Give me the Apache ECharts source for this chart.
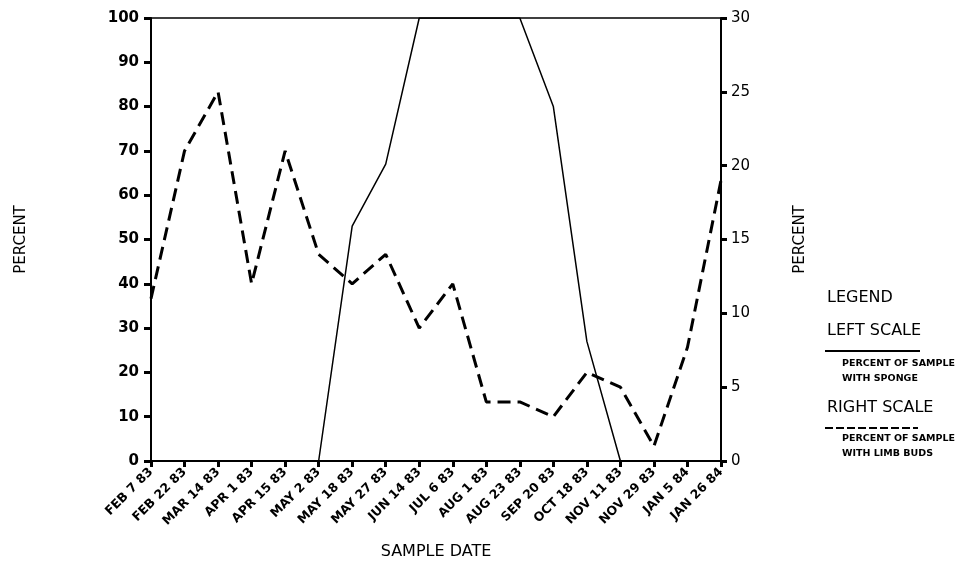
<!DOCTYPE html>
<html><head><meta charset="utf-8">
<script src="https://cdn.jsdelivr.net/npm/echarts@6/dist/echarts.min.js"></script>
<style>html,body{margin:0;padding:0;background:#fff}#c{width:964px;height:570px}</style>
</head><body><div id="c"></div>
<script>
var categories = ['FEB 7 83','FEB 22 83','MAR 14 83','APR 1 83','APR 15 83','MAY 2 83','MAY 18 83','MAY 27 83','JUN 14 83','JUL 6 83','AUG 1 83','AUG 23 83','SEP 20 83','OCT 18 83','NOV 11 83','NOV 29 83','JAN 5 84','JAN 26 84'];
var spongePct = [0,0,0,0,0,0,53,67,100,100,100,100,80,27,0,0,0,0];
var limbBudPct = [11,21,25,12,21,14,12,14,9,12,4,4,3,6,5,1,7.7,19];
var leftTicks = [0,100,10];
var rightTicks = [0,30,5];

var F = 'DejaVu Sans';
var chart = echarts.init(document.getElementById('c'));
chart.setOption({
  animation:false,
  backgroundColor:'#fff',
  grid:{left:151,right:243,top:18,bottom:109,show:true,borderColor:'#000',borderWidth:1.5},
  xAxis:{type:'category',data:categories,boundaryGap:false,
    name:'SAMPLE DATE',nameLocation:'middle',nameGap:83,
    nameTextStyle:{fontFamily:F,fontSize:16,color:'#000'},
    axisLine:{lineStyle:{color:'#000',width:2}},
    axisTick:{show:true,length:6,lineStyle:{color:'#000',width:3},alignWithLabel:true},
    axisLabel:{rotate:45,interval:0,fontFamily:F,fontSize:12.5,fontWeight:'bold',color:'#000',margin:9}},
  yAxis:[
    {type:'value',min:leftTicks[0],max:leftTicks[1],interval:leftTicks[2],position:'left',
     name:'PERCENT',nameLocation:'middle',nameRotate:90,nameGap:122,
     nameTextStyle:{fontFamily:F,fontSize:15,color:'#000'},
     axisLine:{show:true,lineStyle:{color:'#000',width:2}},
     axisTick:{show:true,length:7,lineStyle:{color:'#000',width:3}},
     splitLine:{show:false},
     axisLabel:{fontFamily:F,fontSize:15,fontWeight:'bold',color:'#000',margin:12}},
    {type:'value',min:rightTicks[0],max:rightTicks[1],interval:rightTicks[2],position:'right',
     name:'PERCENT',nameLocation:'middle',nameRotate:90,nameGap:72,
     nameTextStyle:{fontFamily:F,fontSize:15,color:'#000'},
     axisLine:{show:true,lineStyle:{color:'#000',width:2}},
     axisTick:{show:true,length:6,lineStyle:{color:'#000',width:3}},
     splitLine:{show:false},
     axisLabel:{fontFamily:F,fontSize:15,color:'#000',margin:10}}
  ],
  series:[
    {type:'line',yAxisIndex:0,data:spongePct,symbol:'none',lineStyle:{color:'#000',width:1.5}},
    {type:'line',yAxisIndex:1,data:limbBudPct,symbol:'none',lineStyle:{color:'#000',width:3,type:[13,7]}}
  ],
  graphic:[
    {type:'text',left:827,top:290,style:{text:'LEGEND',font:'16px "DejaVu Sans"',fill:'#000'}},
    {type:'text',left:827,top:323,style:{text:'LEFT SCALE',font:'16px "DejaVu Sans"',fill:'#000'}},
    {type:'line',shape:{x1:825,y1:351,x2:920,y2:351},style:{stroke:'#000',lineWidth:2}},
    {type:'text',left:842,top:359,style:{text:'PERCENT OF SAMPLE',font:'bold 9.5px "DejaVu Sans"',fill:'#000'}},
    {type:'text',left:842,top:374,style:{text:'WITH SPONGE',font:'bold 9.5px "DejaVu Sans"',fill:'#000'}},
    {type:'text',left:827,top:400,style:{text:'RIGHT SCALE',font:'16px "DejaVu Sans"',fill:'#000'}},
    {type:'line',shape:{x1:825,y1:428,x2:918,y2:428},style:{stroke:'#000',lineWidth:2,lineDash:[8,3]}},
    {type:'text',left:842,top:434,style:{text:'PERCENT OF SAMPLE',font:'bold 9.5px "DejaVu Sans"',fill:'#000'}},
    {type:'text',left:842,top:449,style:{text:'WITH LIMB BUDS',font:'bold 9.5px "DejaVu Sans"',fill:'#000'}}
  ]
});
</script></body></html>
